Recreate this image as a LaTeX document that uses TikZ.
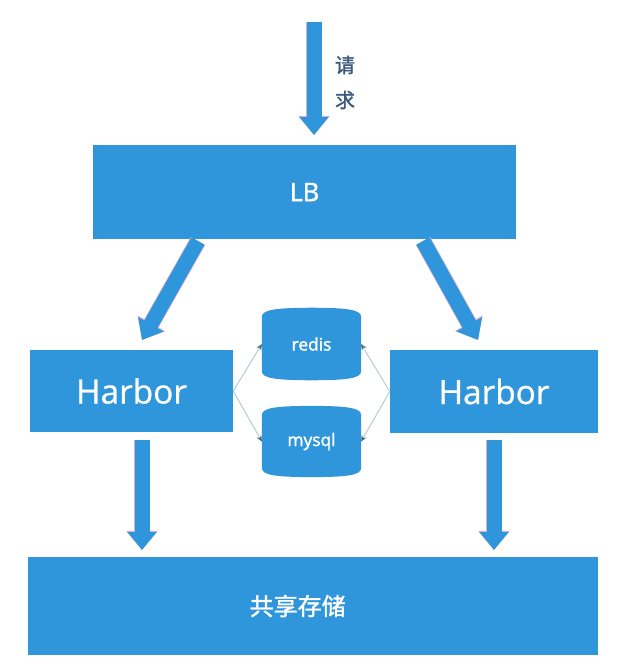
\documentclass[tikz,border=0pt]{standalone}
\usepackage{fontspec}
\setmainfont{Open Sans}
\newfontfamily\semib{Open Sans}[FakeBold=1.6]
\newfontfamily\harborf{Open Sans}[FakeBold=0.8]
\newfontfamily\cjk{Noto Sans CJK SC}[FakeBold=1.4]
\usetikzlibrary{arrows.meta,calc}
\pgfdeclarelayer{background}
\pgfsetlayers{background,main}
\definecolor{boxblue}{RGB}{48,150,220}
\definecolor{arrowedge}{RGB}{214,175,210}
\definecolor{thinline}{RGB}{160,195,218}
\definecolor{thintip}{RGB}{70,110,140}
\definecolor{reqtext}{RGB}{60,90,125}
\tikzset{
  bluebox/.style={rectangle, fill=boxblue, draw=none, text=white, inner sep=0pt},
  cylnode/.style={rectangle, draw=none, text=white, inner sep=0pt, minimum width=74pt,
    font=\semib\fontsize{13pt}{15pt}\selectfont},
  blockunder/.style={draw=arrowedge, line width=12.4pt, -{Triangle[length=14.4pt,width=23pt]}},
  blockarrow/.style={draw=boxblue, line width=11.25pt, -{Triangle[length=13.5pt,width=21pt]}},
  thinconn/.style={draw=thinline, line width=0.6pt, -{Stealth[length=4.5pt,width=4pt,color=thintip]}}
}
\newcommand\cylfill[1]{%
  \fill[boxblue] ($(#1.north west)+(0,9)$) -- ($(#1.south west)+(0,-9)$)
    .. controls ($(#1.south west)+(0,-2)$) and ($(#1.south west)+(14,0)$) .. (#1.south)
    .. controls ($(#1.south east)+(-14,0)$) and ($(#1.south east)+(0,-2)$) .. ($(#1.south east)+(0,-9)$)
    -- ($(#1.north east)+(0,9)$)
    .. controls ($(#1.north east)+(0,2)$) and ($(#1.north east)+(-14,0)$) .. (#1.north)
    .. controls ($(#1.north west)+(14,0)$) and ($(#1.north west)+(0,2)$) .. cycle;}
\begin{document}
\begin{tikzpicture}[x=0.75pt,y=-0.75pt]
\useasboundingbox (0,0) rectangle (622,672);

% boxes
\node[bluebox, minimum width=317.25pt, minimum height=70.5pt, font=\semib\fontsize{19pt}{23pt}\selectfont] (lb) at (304.5,192) {LB};
\node[bluebox, minimum width=152.25pt, minimum height=61.5pt, font=\harborf\fontsize{25pt}{30pt}\selectfont] (hl) at (131.5,391) {Harbor};
\node[bluebox, minimum width=156pt, minimum height=62.25pt, font=\harborf\fontsize{25pt}{30pt}\selectfont] (hr) at (494,391.5) {Harbor};
\node[bluebox, minimum width=427.5pt, minimum height=73.5pt, font=\cjk\fontsize{18pt}{22pt}\selectfont] (store) at (313,606) {\hspace*{-23pt}共享存储};

% cylinders
\node[cylnode, minimum height=54pt] (redis) at (311.5,344) {redis};
\node[cylnode, minimum height=53pt] (mysql) at (311.5,441.5) {mysql};
\begin{pgfonlayer}{background}
\cylfill{redis}
\cylfill{mysql}
\end{pgfonlayer}

% request label
\node[text=reqtext, font=\cjk\fontsize{15pt}{18pt}\selectfont, inner sep=0pt] (q1) at (345,65) {请};
\node[text=reqtext, font=\cjk\fontsize{15pt}{18pt}\selectfont, inner sep=0pt] (q2) at (345,100) {求};

% arrow end points
\coordinate (a0s) at (314,22);
\coordinate (a0e) at (314,135);
\coordinate (a1s) at (198,241);
\coordinate (a1e) at (142,340);
\coordinate (a2s) at (423,241);
\coordinate (a2e) at (478,340);
\coordinate (a3s) at (142,440);
\coordinate (a3e) at (142,550);
\coordinate (a4s) at (494,440);
\coordinate (a4e) at (494,550);

% block arrows
\foreach \s/\e in {a0s/a0e,a1s/a1e,a2s/a2e,a3s/a3e,a4s/a4e}{
  \draw[blockunder] (\s) -- (\e);
  \draw[blockarrow] (\s) -- (\e);
}

% thin connectors
\draw[thinconn] (hl.east) -- (redis.west);
\draw[thinconn] (hl.east) -- (mysql.west);
\draw[thinconn] (hr.west) -- (redis.east);
\draw[thinconn] (hr.west) -- (mysql.east);
\end{tikzpicture}
\end{document}
